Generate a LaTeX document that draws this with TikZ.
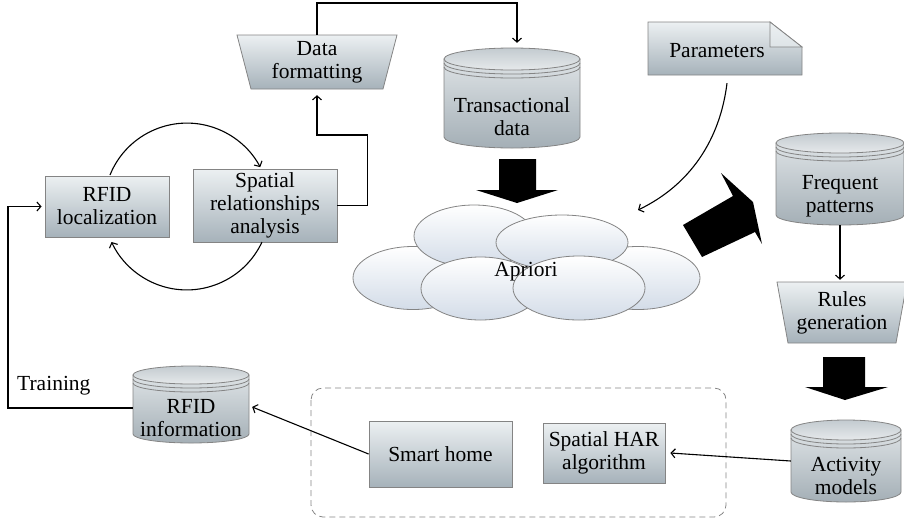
\documentclass[tikz,border=0pt]{standalone}
\usepackage{fontspec}
\setmainfont{Liberation Serif}
\usetikzlibrary{arrows.meta,calc}
\definecolor{boxtop}{HTML}{ECF0F2}
\definecolor{boxbot}{HTML}{A6B2BA}
\definecolor{edge}{HTML}{848484}
\definecolor{cldbot}{HTML}{D3DCE8}
\definecolor{cyltopA}{HTML}{C3CBD0}
\definecolor{cyltopB}{HTML}{E6E9EB}
\definecolor{cylbodA}{HTML}{DDE2E5}
\definecolor{cylbodB}{HTML}{A4AFB6}
\tikzset{
 shbox/.style={draw=edge, line width=0.8pt, top color=boxtop, bottom color=boxbot},
 lbl/.style={align=center, font=\fontsize{21.5}{23}\selectfont, inner sep=0pt},
 conn/.style={line width=1.1pt, -{Straight Barb[length=4pt,width=9pt]}},
 cloudell/.style={draw=edge, line width=0.8pt, top color=white, bottom color=cldbot},
 cylbody/.style={draw=edge, line width=0.8pt, top color=cylbodA, bottom color=cylbodB},
 cyltop/.style={draw=edge, line width=0.8pt, top color=cyltopA, bottom color=cyltopB},
 cylring/.style={draw=edge, line width=0.8pt},
}
\newcommand{\dbcyl}[6]{%
 \path[cylbody] ({#2-#5},{#3+#6}) -- ({#2-#5},{#4-#6}) arc[start angle=180,end angle=0,x radius=#5,y radius=#6] -- ({#2+#5},{#3+#6}) -- cycle;
 \path[cyltop] (#2,{#3+#6}) ellipse[x radius=#5,y radius=#6];
 \draw[cylring] ({#2-#5},{#3+#6+4}) arc[start angle=180,end angle=0,x radius=#5,y radius=#6];
 \draw[cylring] ({#2-#5},{#3+#6+8}) arc[start angle=180,end angle=0,x radius=#5,y radius=#6];
 \node[inner sep=0pt, minimum width={2*#5}, minimum height={#4-#3}] (#1) at (#2,{(#3+#4)/2}) {};
}
\begin{document}
\begin{tikzpicture}[x=1pt,y=-1pt]
\useasboundingbox (0,0) rectangle (904,520);
% dashed group
\draw[edge, line width=0.8pt, dash pattern=on 6pt off 4pt, rounded corners=12pt] (311,388) rectangle (726,517);
% boxes
\node[shbox, lbl, minimum width=124pt, minimum height=61pt] (rl) at (107,206.5) {RFID\\localization};
\node[shbox, lbl, minimum width=144pt, minimum height=73pt] (sp) at (265,205.5) {Spatial\\relationships\\analysis};
\node[shbox, lbl, minimum width=143pt, minimum height=66pt] (sh) at (440.5,454) {Smart home};
\node[shbox, lbl, minimum width=122pt, minimum height=60pt] (sha) at (604,453) {Spatial HAR\\algorithm};
% trapezoids
\path[shbox] (237,35) -- (397,35) -- (383,89) -- (251,89) -- cycle;
\node[lbl, minimum width=146pt, minimum height=54pt] (df) at (317,62) {Data\\formatting};
\path[shbox] (777,282) -- (907,282) -- (896,343) -- (788,343) -- cycle;
\node[lbl, minimum width=119pt, minimum height=61pt] (rg) at (842,312.5) {Rules\\generation};
% parameters document
\path[shbox] (648,22) -- (770,22) -- (802,47) -- (802,75) -- (648,75) -- cycle;
\path[draw=edge, line width=0.8pt, top color=boxtop, bottom color=boxtop!80!boxbot] (770,22) -- (770,47) -- (802,47) -- cycle;
\node[minimum width=154pt, minimum height=53pt, inner sep=0pt] (par) at (725,48.5) {};
\node[lbl] at (717,51) {Parameters};
% cylinders
\dbcyl{td}{512}{48}{148}{68}{11}
\node[lbl] at (512,117) {Transactional\\data};
\dbcyl{fp}{840}{133}{225}{64}{10}
\node[lbl] at (840,196) {Frequent\\patterns};
\dbcyl{am}{846}{420}{502}{55}{10}
\node[lbl] at (846,476) {Activity\\models};
\dbcyl{ri}{191}{366}{443}{58}{9}
\node[lbl] at (191,418) {RFID\\information};
% cloud
\path[cloudell] (413,278) ellipse[x radius=60,y radius=31.5];
\path[cloudell] (638,278) ellipse[x radius=62,y radius=31.5];
\path[cloudell] (474,236) ellipse[x radius=60,y radius=31];
\path[cloudell] (562,242.5) ellipse[x radius=66,y radius=27.5];
\path[cloudell] (480.5,288.5) ellipse[x radius=59.5,y radius=31.5];
\path[cloudell] (579,288) ellipse[x radius=66,y radius=32];
\node[lbl] (ap) at (526,272) {Apriori};
\coordinate (apin) at (638,210);
% big arrows
\fill (499,159) -- (536,159) -- (536,190) -- (558,190) -- (517,203) -- (476,190) -- (499,190) -- cycle;
\fill (823,357) -- (865,357) -- (865,387) -- (888,387) -- (845,400) -- (805,387) -- (823,387) -- cycle;
\fill (683,225) -- (733,196) -- (721,173) -- (753,202) -- (762,244) -- (755,232) -- (702,257) -- cycle;
% connectors
\draw[conn] (df.north) -- (317,3) -| ($(td.north)+(5,-5)$);
\draw[conn] (sp.east) -- ++(30,0) |- (317,135) -- ($(df.south)+(0,6)$);
\draw[conn] (110,175) arc[start angle=202,end angle=332,radius=83];
\draw[conn] (262,242) arc[start angle=25,end angle=155,radius=83];
\draw[conn] ($(ri.west)+(0,3.5)$) -- (8,408) |- ($(rl.west)+(-3,0)$);
\draw[conn] (sh.west) -- ($(ri.east)+(3,2.5)$);
\draw[conn] (am.west) -- ($(sha.east)+(5,0)$);
\draw[conn] (fp.south) -- ($(fp.south |- rg.north)+(0,-2)$);
\draw[conn] ($(par.south)+(2,8)$) .. controls (720,140) and (690,185) .. (apin);
\node[lbl, anchor=west] (tr) at (17,386) {Training};
\end{tikzpicture}
\end{document}
